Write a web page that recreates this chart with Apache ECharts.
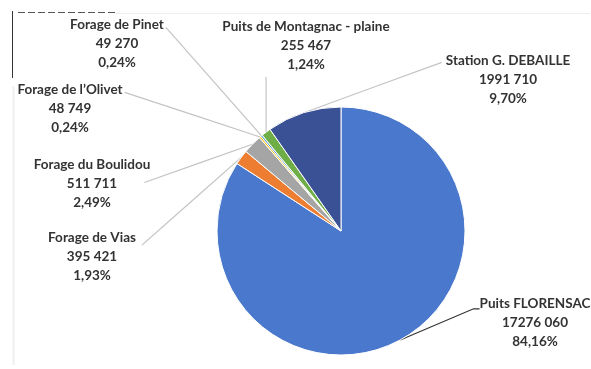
<!DOCTYPE html>
<html>
<head>
<meta charset="utf-8">
<script src="https://cdn.jsdelivr.net/npm/echarts@6/dist/echarts.min.js"></script>
<style>
  html, body { margin: 0; padding: 0; background: #fff; }
  #chart { width: 591px; height: 369px; }
</style>
</head>
<body>
<div id="chart"></div>
<script>
// Volumes by water source
const sources = [
  'Puits FLORENSAC',
  'Forage de Vias',
  'Forage du Boulidou',
  "Forage de l\u2019Olivet",
  'Forage de Pinet',
  'Puits de Montagnac - plaine',
  'Station G. DEBAILLE'
];
const volumes = [17276060, 395421, 511711, 48749, 49270, 255467, 1991710];
const sliceColors = ['#4A78CC', '#ED7D31', '#A5A5A5', '#FFC000', '#5B9BD5', '#6FAE46', '#3B5196'];

// Label block placement: [centre x, top y] and where the leader meets the block
const labelSpots = [
  { x: 535, y: 294, join: 'underline' },
  { x: 92,  y: 228, join: 'right' },
  { x: 92,  y: 155, join: 'rightMid' },
  { x: 70,  y: 80,  join: 'rightTop' },
  { x: 117, y: 15,  join: 'rightTop' },
  { x: 306, y: 17,  join: 'below' },
  { x: 508, y: 51,  join: 'leftTop' }
];
const LINE_H = 19;

const total = volumes.reduce((a, b) => a + b, 0);

function fmtVolume(v) {
  const hi = Math.floor(v / 1000);
  const lo = String(v % 1000).padStart(3, '0');
  return hi > 0 ? hi + ' ' + lo : String(v % 1000);
}
function fmtPct(v) {
  return (v / total * 100).toFixed(2).replace('.', ',') + '%';
}

const chart = echarts.init(document.getElementById('chart'), null, { renderer: 'canvas' });

const option = {
  backgroundColor: '#ffffff',
  animation: false,
  graphic: [
    { type: 'line', shape: { x1: 12.5, y1: 11, x2: 12.5, y2: 78 }, style: { stroke: '#333', lineWidth: 1 } },
    { type: 'line', shape: { x1: 18, y1: 12.5, x2: 116, y2: 12.5 }, style: { stroke: '#555', lineWidth: 1, lineDash: [7, 3] } },
    { type: 'line', shape: { x1: 116, y1: 13.5, x2: 590, y2: 13.5 }, style: { stroke: '#eeeeee', lineWidth: 1 } },
    { type: 'line', shape: { x1: 13.5, y1: 86, x2: 13.5, y2: 365 }, style: { stroke: '#f0f0f0', lineWidth: 2 } }
  ],
  series: [{
    type: 'pie',
    center: [341, 231],
    radius: 124,
    startAngle: 90,
    clockwise: true,
    avoidLabelOverlap: false,
    data: sources.map((name, i) => ({
      name,
      value: volumes[i],
      itemStyle: { color: sliceColors[i] },
      labelLine: {
        lineStyle: {
          color: i === 0 ? '#333333' : '#c4c4c4',
          width: 1.2
        }
      }
    })),
    itemStyle: { borderColor: '#ffffff', borderWidth: 1 },
    label: {
      show: true,
      position: 'outside',
      formatter: p => p.name + '\n' + fmtVolume(p.value) + '\n' + fmtPct(p.value),
      fontFamily: 'Lato',
      fontWeight: 'bold',
      fontSize: 13.5,
      lineHeight: LINE_H,
      color: '#333333',
      align: 'center'
    },
    labelLine: { show: true, length: 10, length2: 10, smooth: false },
    labelLayout: function (params) {
      const spot = labelSpots[params.dataIndex];
      const w = params.labelRect.width;
      const h = params.labelRect.height;
      const L = spot.x - w / 2, R = spot.x + w / 2, T = spot.y, B = spot.y + h;
      const pts = params.labelLinePoints;
      const anchor = pts ? pts[0].slice() : [spot.x, B];
      let end, mid;
      switch (spot.join) {
        case 'underline': {
          const y = T + LINE_H * 0.78;
          end = [L, y]; mid = [L - 6, y]; break;
        }
        case 'right': end = [R + 6, T + LINE_H * 0.9]; break;
        case 'rightMid': end = [R - 6, T + LINE_H * 1.45]; break;
        case 'rightTop': end = [R + 2, T + LINE_H * 0.65]; break;
        case 'below': end = [anchor[0], B + 3]; break;
        case 'leftTop': end = [L - 4, T + LINE_H * 0.6]; break;
      }
      if (!mid) mid = [(anchor[0] + end[0]) / 2, (anchor[1] + end[1]) / 2];
      return {
        x: spot.x,
        y: spot.y,
        align: 'center',
        verticalAlign: 'top',
        labelLinePoints: [anchor, mid, end]
      };
    }
  }]
};

chart.setOption(option);
</script>
</body>
</html>
